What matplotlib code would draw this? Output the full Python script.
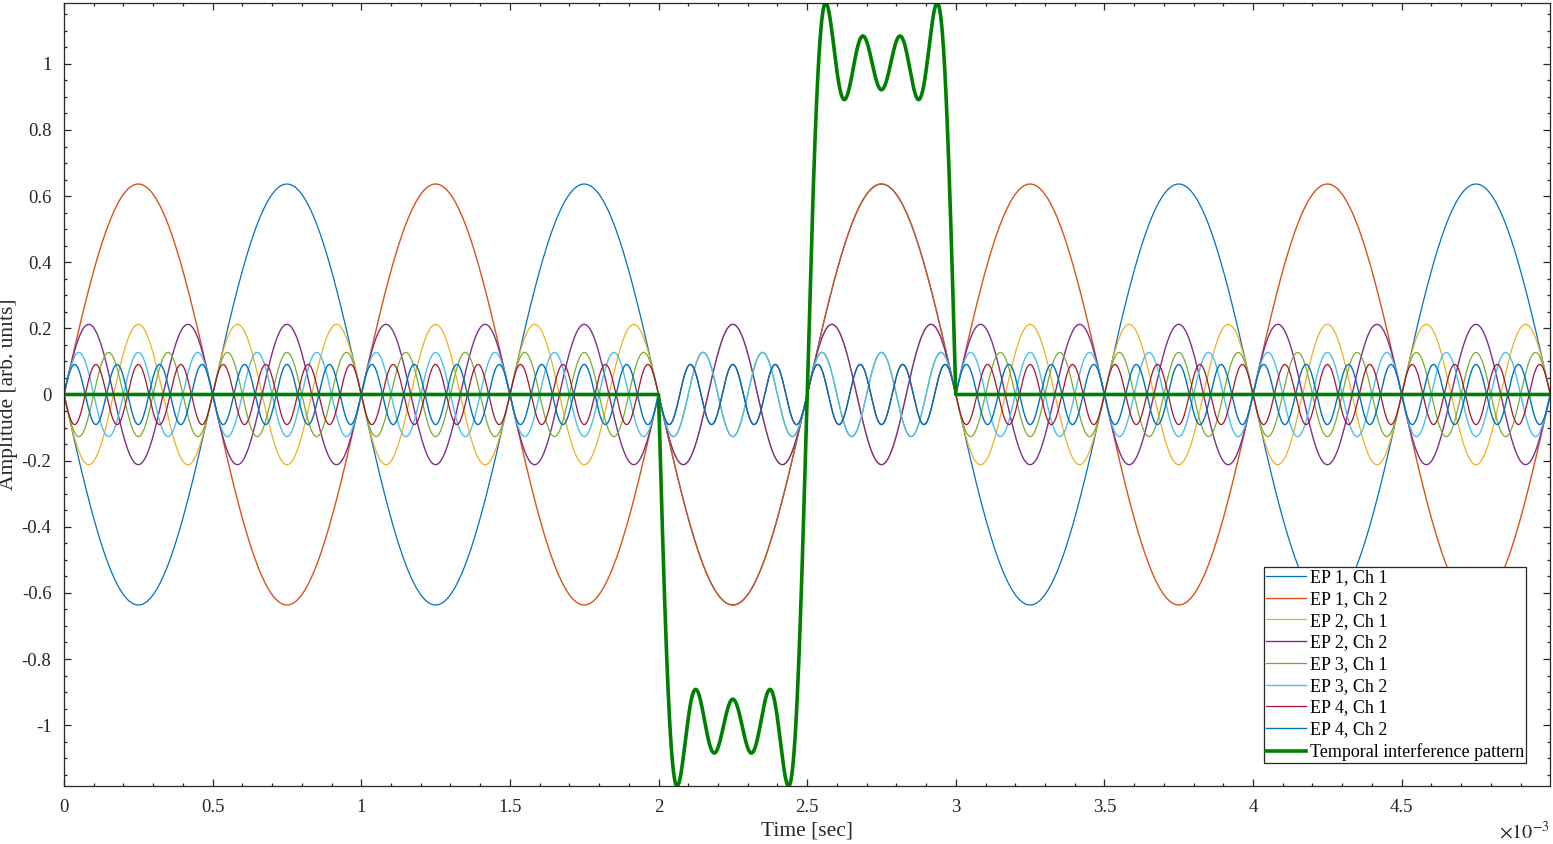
import numpy as np
import matplotlib.pyplot as plt
from matplotlib.ticker import MultipleLocator, FuncFormatter

# Electrode pairs: odd harmonics of a 1 kHz square wave
ep_names = ['EP 1', 'EP 2', 'EP 3', 'EP 4']
harmonics = [1, 3, 5, 7]
amplitudes = [0.6366, 0.2122, 0.1273, 0.0909]
base_freq = 1000.0          # Hz
window_start = 2e-3         # s, Ch 2 phase flip begins
window_end = 3e-3           # s, Ch 2 phase flip ends
t_end = 5e-3
dt = 1e-6

colors = ['#0072BD', '#D95319', '#EDB120', '#7E2F8E',
          '#77AC30', '#4DBEEE', '#A2142F', '#0072BD']
ti_color = '#008000'

plt.rcParams['font.family'] = ['Liberation Serif', 'DejaVu Serif']
plt.rcParams['mathtext.fontset'] = 'stix'
plt.rcParams['axes.unicode_minus'] = False

t = np.arange(0, t_end, dt)
in_window = (t >= window_start) & (t < window_end)

fig = plt.figure(figsize=(15.53, 8.44), dpi=100)
ax = fig.add_axes([64 / 1553, 1 - 786 / 844, (1550 - 64) / 1553, (786 - 3) / 844])

ti = np.zeros_like(t)
k = 0
for name, n, a in zip(ep_names, harmonics, amplitudes):
    s = np.sin(2 * np.pi * n * base_freq * t)
    ch1 = -a * s
    ch2 = np.where(in_window, -a * s, a * s)
    ax.plot(t, ch1, color=colors[k], lw=0.9, label=f'{name}, Ch 1')
    ax.plot(t, ch2, color=colors[k + 1], lw=1.0, label=f'{name}, Ch 2')
    ti += ch1 + ch2
    k += 2

ax.plot(t, ti, color=ti_color, lw=2.6, label='Temporal interference pattern')

ax.set_xlim(0, t[-1])
ax.set_ylim(ti.min(), ti.max())

ax.xaxis.set_major_locator(MultipleLocator(0.5e-3))
ax.xaxis.set_minor_locator(MultipleLocator(0.1e-3))
ax.xaxis.set_major_formatter(FuncFormatter(lambda v, p: f'{v * 1e3:g}'))
ax.yaxis.set_major_locator(MultipleLocator(0.2))
ax.yaxis.set_minor_locator(MultipleLocator(0.05))
ax.yaxis.set_major_formatter(FuncFormatter(lambda v, p: f'{v:g}' if abs(v) > 1e-9 else '0'))

ax.tick_params(which='both', direction='in', top=True, right=True,
               colors='#262626', labelsize=13.5, width=0.9)
ax.tick_params(which='major', length=5, pad=9)
ax.tick_params(which='minor', length=2.5)
for sp in ax.spines.values():
    sp.set_color('#262626')
    sp.set_linewidth(0.9)

ax.set_xlabel('Time [sec]', fontsize=15.5, color='#262626', labelpad=4)
ax.set_ylabel('Amplitude [arb. units]', fontsize=15.5, color='#262626', labelpad=3)
ax.text(1.0, -0.045, r'$\times 10^{-3}$', transform=ax.transAxes, ha='right', va='top',
        fontsize=14.5, color='#262626')

leg = ax.legend(loc='lower right', bbox_to_anchor=(1 - 24 / 1486, 23 / 783),
                borderaxespad=0, fontsize=13, handlelength=2.2, handletextpad=0.22,
                labelspacing=0.26, borderpad=0.12, fancybox=False, framealpha=1,
                edgecolor='#262626')
leg.get_frame().set_linewidth(0.9)

fig.savefig('out.png', dpi=100)
